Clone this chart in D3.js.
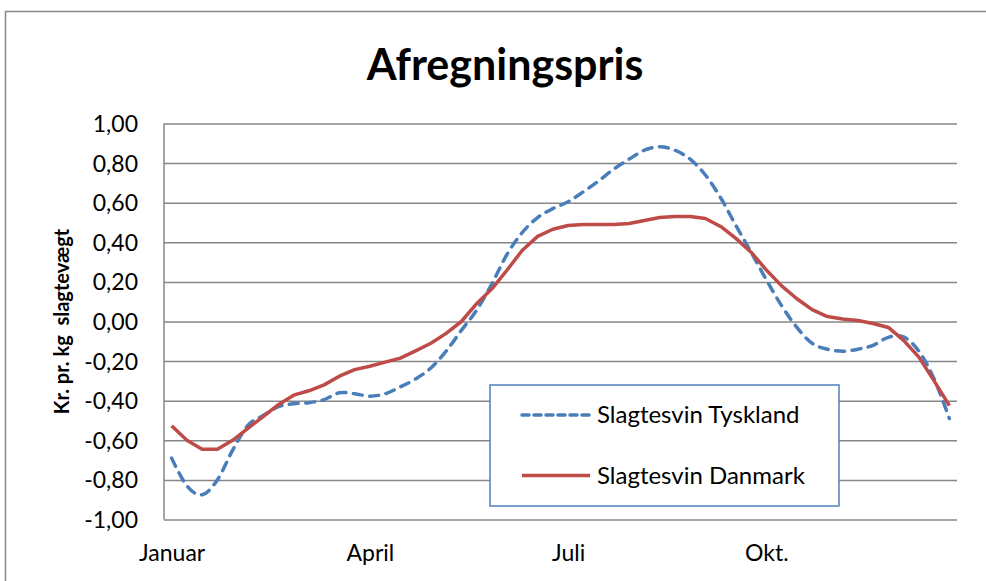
<!DOCTYPE html>
<html>
<head>
<meta charset="utf-8">
<script src="https://cdn.jsdelivr.net/npm/d3@7"></script>
<style>
  body { margin: 0; background: #fff; }
  #chart { width: 986px; height: 581px; }
  text { font-family: Lato, "Open Sans", sans-serif; fill: #000; }
</style>
</head>
<body>
<div id="chart"></div>
<script>
// uge 1..52
const weeks = [1, 2, 3, 4, 5, 6, 7, 8, 9, 10, 11, 12, 13, 14, 15, 16, 17, 18, 19, 20, 21, 22, 23, 24, 25, 26,
    27, 28, 29, 30, 31, 32, 33, 34, 35, 36, 37, 38, 39, 40, 41, 42, 43, 44, 45, 46, 47, 48, 49, 50, 51, 52]

const tysklandValues = [-0.69, -0.83, -0.875, -0.80, -0.65, -0.525, -0.475, -0.43, -0.415, -0.41, -0.395, -0.36, -0.365,
    -0.377, -0.365, -0.33, -0.29, -0.235, -0.15, -0.045, 0.057, 0.19, 0.34, 0.45, 0.525, 0.57,
    0.605, 0.655, 0.71, 0.77, 0.82, 0.865, 0.882, 0.865, 0.82, 0.74, 0.625, 0.485, 0.35, 0.21,
    0.08, -0.03, -0.11, -0.14, -0.15, -0.14, -0.12, -0.08, -0.078, -0.15, -0.29, -0.49]

const danmarkValues = [-0.527, -0.60, -0.645, -0.645, -0.60, -0.54, -0.48, -0.42, -0.372, -0.35, -0.32, -0.276, -0.243,
    -0.226, -0.205, -0.185, -0.148, -0.11, -0.06, 0.0, 0.09, 0.165, 0.26, 0.36, 0.43, 0.466,
    0.485, 0.49, 0.49, 0.49, 0.495, 0.51, 0.525, 0.53, 0.53, 0.52, 0.48, 0.42, 0.35, 0.26,
    0.18, 0.115, 0.06, 0.025, 0.013, 0.005, -0.01, -0.03, -0.095, -0.18, -0.30, -0.425]

const yTicks = [-1, -0.8, -0.6, -0.4, -0.2, 0, 0.2, 0.4, 0.6, 0.8, 1]
const monthWeeks = [1, 14, 27, 40]
const monthLabels = ["Januar", "April", "Juli", "Okt."]

const seriesNames = ["Slagtesvin Tyskland", "Slagtesvin Danmark"]
const seriesColors = ["#4a7ebb", "#be4b48"]

const width = 986
const height = 581
const margin = { left: 164, right: 29, top: 123.5, bottom: 61.5 }

const svg = d3.select("#chart").append("svg").attr("width", width).attr("height", height)

// chart frame
svg.append("rect")
    .attr("x", 5.5).attr("y", 11.5)
    .attr("width", 1000).attr("height", 600)
    .attr("fill", "none").attr("stroke", "#868686").attr("stroke-width", 1.5)

const x = d3.scalePoint().domain(weeks).range([margin.left, width - margin.right]).padding(0.5)
const y = d3.scaleLinear().domain([-1, 1]).range([height - margin.bottom, margin.top])

const locale = d3.formatLocale({ decimal: ",", thousands: ".", grouping: [3], currency: ["", " kr."], minus: "-" })
const fmt = locale.format(".2f")

// y axis + gridlines
const yAxis = svg.append("g")
    .attr("transform", `translate(${margin.left},0)`)
    .call(d3.axisLeft(y).tickValues(yTicks).tickFormat(fmt).tickSize(-(width - margin.right - margin.left)).tickPadding(26))
yAxis.select(".domain").remove()
yAxis.selectAll(".tick line").attr("stroke", "#868686").attr("stroke-width", 1.5)
yAxis.selectAll(".tick text").attr("font-size", 23).attr("font-family", "Lato").attr("dy", "0.35em")

// left axis line
svg.append("line")
    .attr("x1", margin.left).attr("x2", margin.left)
    .attr("y1", y(1)).attr("y2", y(-1))
    .attr("stroke", "#868686").attr("stroke-width", 1.5)

// x axis labels
const xAxis = svg.append("g")
    .attr("transform", `translate(0,${y(-1)})`)
    .call(d3.axisBottom(x).tickValues(monthWeeks).tickFormat((d, i) => monthLabels[i]).tickSize(0).tickPadding(25))
xAxis.select(".domain").remove()
xAxis.selectAll(".tick text").attr("font-size", 23).attr("font-family", "Lato")

// lines
const lineTysk = d3.line()
    .x((d, i) => x(weeks[i]))
    .y(d => y(d))
    .curve(d3.curveCatmullRom.alpha(0))

const lineDk = d3.line()
    .x((d, i) => x(weeks[i]))
    .y(d => y(d))

svg.append("path")
    .datum(tysklandValues)
    .attr("d", lineTysk)
    .attr("fill", "none")
    .attr("stroke", seriesColors[0])
    .attr("stroke-width", 3.5)
    .attr("stroke-dasharray", "9,7.5")
    .attr("stroke-linecap", "round")

svg.append("path")
    .datum(danmarkValues)
    .attr("d", lineDk)
    .attr("fill", "none")
    .attr("stroke", seriesColors[1])
    .attr("stroke-width", 3.5)
    .attr("stroke-linejoin", "round")

// title
svg.append("text")
    .attr("x", 505).attr("y", 80)
    .attr("text-anchor", "middle")
    .attr("font-size", 43)
    .attr("font-weight", "bold")
    .text("Afregningspris")

// y axis title
svg.append("text")
    .attr("transform", `translate(69,${y(0)}) rotate(-90)`)
    .attr("text-anchor", "middle")
    .attr("font-size", 20)
    .attr("font-weight", "bold")
    .attr("xml:space", "preserve")
    .text("Kr. pr. kg  slagtevægt")

// legend
const legend = svg.append("g")
legend.append("rect")
    .attr("x", 490).attr("y", 385)
    .attr("width", 349).attr("height", 121)
    .attr("fill", "#fff").attr("stroke", "#4f81bd").attr("stroke-width", 1.5)

const legendRows = legend.selectAll("g.row")
    .data(seriesNames)
    .join("g")
    .attr("class", "row")
    .attr("transform", (d, i) => `translate(0,${415 + i * 60.5})`)

legendRows.append("line")
    .attr("x1", 522).attr("x2", 590)
    .attr("stroke", (d, i) => seriesColors[i])
    .attr("stroke-width", 3.5)
    .attr("stroke-dasharray", (d, i) => i === 0 ? "7,5" : null)
    .attr("stroke-linecap", (d, i) => i === 0 ? "round" : "butt")

legendRows.append("text")
    .attr("x", 597).attr("dy", "0.35em")
    .attr("font-size", 24)
    .text(d => d)
</script>
</body>
</html>
